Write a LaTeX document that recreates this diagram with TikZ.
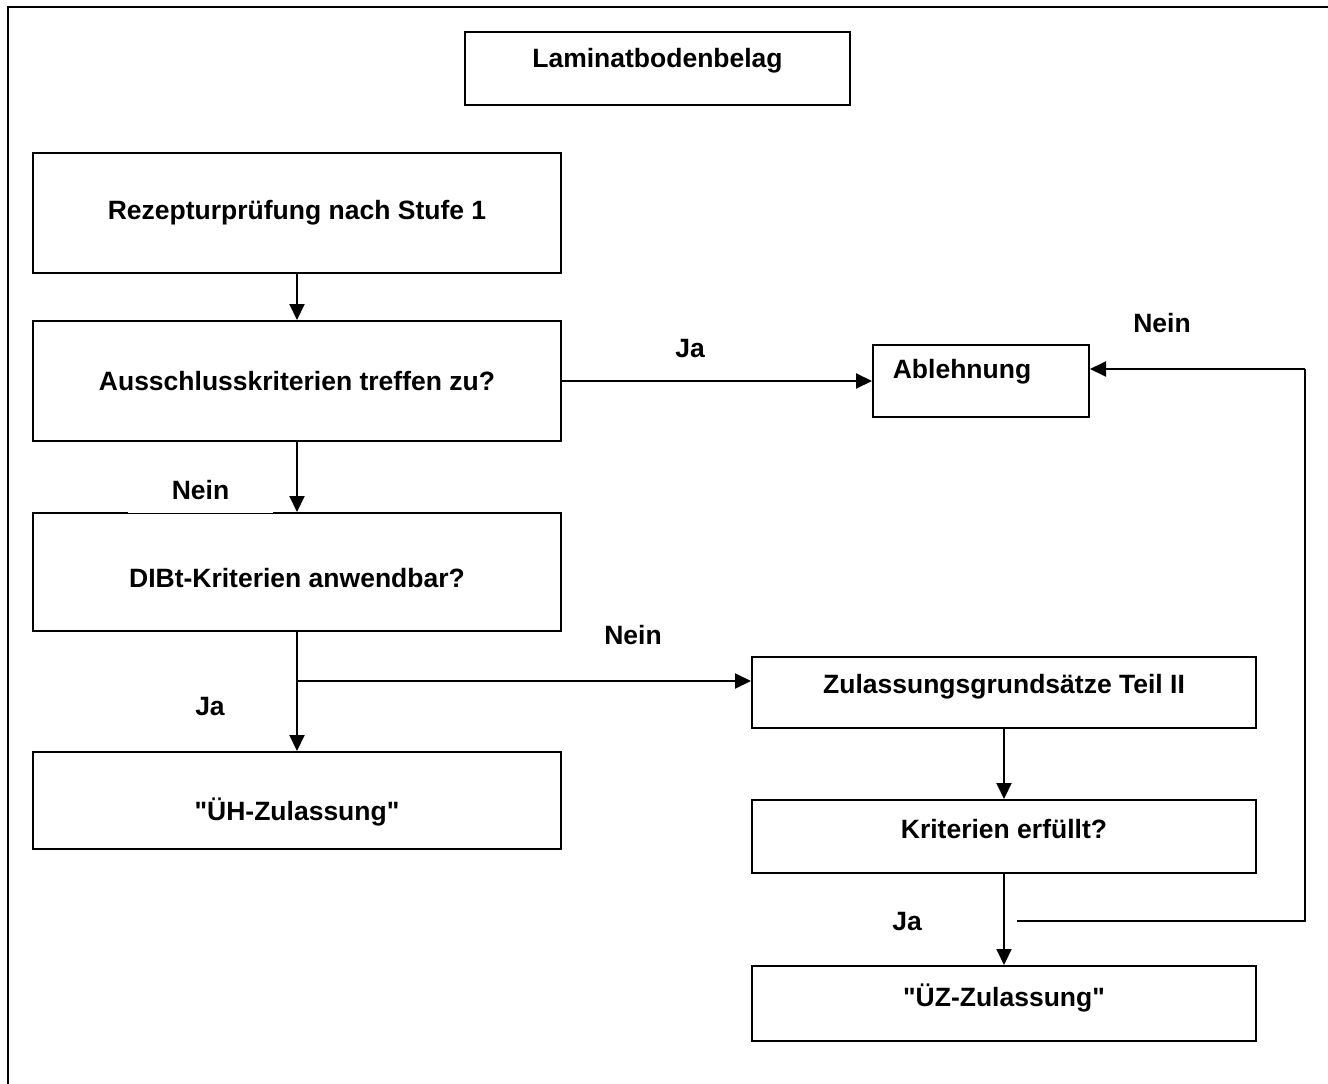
\documentclass[tikz,border=0pt]{standalone}
\usepackage{fontspec}
\setmainfont{Liberation Sans}[Ligatures=TeXOff]
\usetikzlibrary{arrows.meta,calc}
\tikzset{
  box/.style={draw=black, line width=2pt, rectangle, inner sep=0pt},
  txt/.style={font=\fontsize{26.5}{31}\selectfont\bfseries, inner sep=0pt, anchor=center},
  conn/.style={line width=2pt},
  arr/.style={line width=2pt, -{Triangle[length=16pt,width=15pt]}},
}
\begin{document}
\begin{tikzpicture}[x=1pt,y=-1pt]
\useasboundingbox (0,0) rectangle (1328,1084);
% outer frame (right and bottom edges lie outside the picture)
\draw[line width=2pt] (8,1084) -- (8,7) -- (1328,7);

% boxes
\node[box, minimum width=385, minimum height=73] (lam) at (657.5,68.5) {};
\node[box, minimum width=528, minimum height=120] (rez) at (297,213) {};
\node[box, minimum width=528, minimum height=120] (aus) at (297,381) {};
\node[box, minimum width=216, minimum height=72] (abl) at (981,381) {};
\node[box, minimum width=528, minimum height=118] (dib) at (297,572) {};
\node[box, minimum width=528, minimum height=97] (uh) at (297,800.5) {};
\node[box, minimum width=504, minimum height=71] (zul) at (1004,692.5) {};
\node[box, minimum width=504, minimum height=73] (kri) at (1004,836.5) {};
\node[box, minimum width=504, minimum height=75] (uz) at (1004,1003.5) {};

% texts inside boxes
\node[txt] (tlam) at ($(lam.center)+(0,-8)$) {Laminatbodenbelag};
\node[txt] (trez) at ($(rez.center)+(0,0)$) {Rezepturprüfung nach Stufe 1};
\node[txt] (taus) at ($(aus.center)+(0,0)$) {Ausschlusskriterien treffen zu?};
\node[txt] (tabl) at ($(abl.center)+(-19,-9)$) {Ablehnung};
\node[txt] (tdib) at ($(dib.center)+(0,6)$) {DIBt-Kriterien anwendbar?};
\node[txt] (tuh) at ($(uh.center)+(0,11)$) {"ÜH-Zulassung"};
\node[txt] (tzul) at ($(zul.center)+(0,-6)$) {Zulassungsgrundsätze Teil II};
\node[txt] (tkri) at ($(kri.center)+(0,-7)$) {Kriterien erfüllt?};
\node[txt] (tuz) at ($(uz.center)+(0,-6)$) {"ÜZ-Zulassung"};

% connectors
\draw[arr] (rez.south) -- (aus.north);
\draw[arr] (aus.east) -- (abl.west);
\draw[arr] (aus.south) -- (dib.north);
\coordinate (br) at (298,681);
\draw[arr] (dib.south) -- (uh.north);
\draw[arr] (br) -- (br -| zul.west);
\draw[arr] (zul.south) -- (kri.north);
\draw[arr] (kri.south) -- (uz.north);
\coordinate (fs) at (1017,921);
\coordinate (fc) at (1305,921);
\coordinate (ft) at (1305,369);
\draw[conn] (fs) -- (fc) -- (ft);
\draw[arr] (ft) -- (ft -| abl.east);

% labels
\node[txt] (lja1) at (690,349) {Ja};
\node[txt, fill=white, minimum width=145, minimum height=44] (lnein1) at (200.5,490.5) {Nein};
\node[txt] (lnein2) at (633,635) {Nein};
\node[txt] (lja2) at (210,707) {Ja};
\node[txt] (lnein3) at (1162,323) {Nein};
\node[txt] (lja3) at (907,922) {Ja};
\end{tikzpicture}
\end{document}
